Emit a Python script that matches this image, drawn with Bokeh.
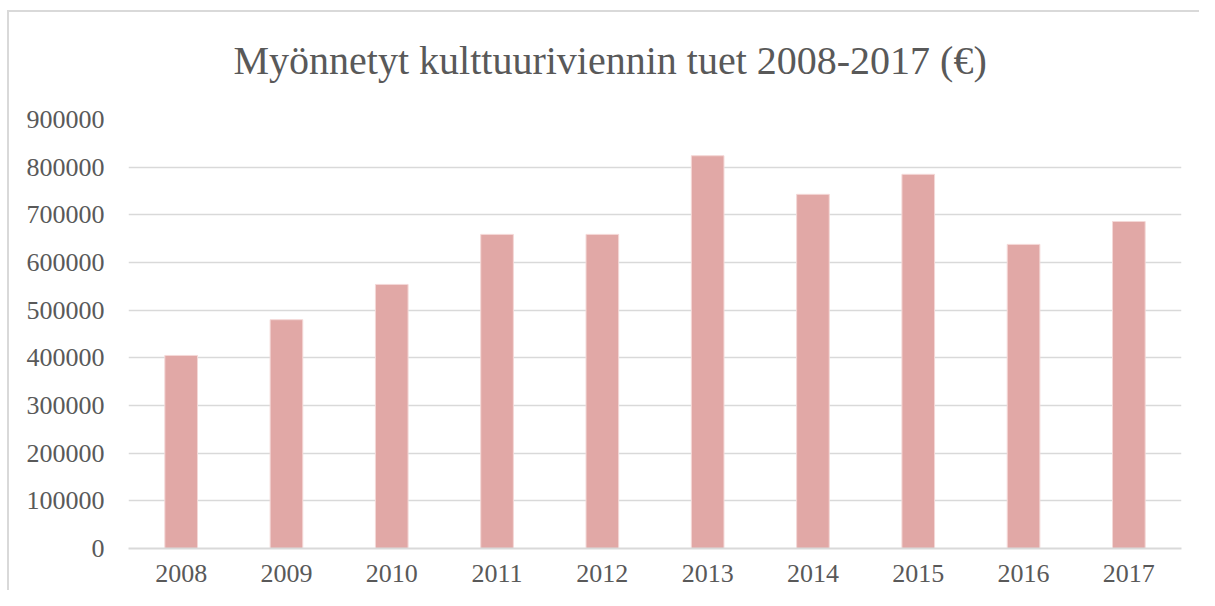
from bokeh.plotting import figure
from bokeh.models import Range1d, FactorRange, SingleIntervalTicker, NumeralTickFormatter, Title
from bokeh.embed import file_html
from bokeh.resources import INLINE

years = ["2008", "2009", "2010", "2011", "2012", "2013", "2014", "2015", "2016", "2017"]
values = [405000, 480000, 554000, 659000, 659000, 824000, 743000, 785000, 638000, 686000]
title_text = "Myönnetyt kulttuuriviennin tuet 2008-2017 (€)"

FONT = "Liberation Serif"
GRAY = "#595959"
LINE = "#d9d9d9"

p = figure(width=1199, height=590, x_range=FactorRange(*years), y_range=Range1d(0, 900000),
           output_backend="svg", toolbar_location=None,
           min_border_left=128, min_border_right=18, min_border_top=119, min_border_bottom=42)

p.title = Title(text=title_text, align="left", offset=105, vertical_align="top",
                text_font=FONT, text_font_size="40px",
                text_font_style="normal", text_color=GRAY, standoff=70)

p.vbar(x=years, top=values, width=0.31, fill_color="#e1a8a6", line_color="#f4d8d7", line_width=1)

p.outline_line_color = None
p.border_fill_color = None
p.background_fill_color = "white"
p.styles = {
    "background-color": "white",
    "background-image": f"linear-gradient({LINE}, {LINE}), linear-gradient({LINE}, {LINE})",
    "background-size": "2px 100%, 100% 2px",
    "background-position": "7px 10px, 7px 10px",
    "background-repeat": "no-repeat",
}

p.xgrid.grid_line_color = None
p.ygrid.grid_line_color = LINE
p.ygrid.grid_line_width = 1.5
p.yaxis.ticker = SingleIntervalTicker(interval=100000)
p.yaxis.formatter = NumeralTickFormatter(format="0")

for ax in (p.xaxis[0], p.yaxis[0]):
    ax.major_tick_line_color = None
    ax.minor_tick_line_color = None
    ax.major_label_text_font = FONT
    ax.major_label_text_font_size = "26px"
    ax.major_label_text_color = GRAY
p.yaxis.axis_line_color = None
p.yaxis.major_label_standoff = 18
p.xaxis.axis_line_color = LINE
p.xaxis.axis_line_width = 2
p.xaxis.major_label_standoff = 10

open("out.html", "w").write(file_html(p, INLINE))
